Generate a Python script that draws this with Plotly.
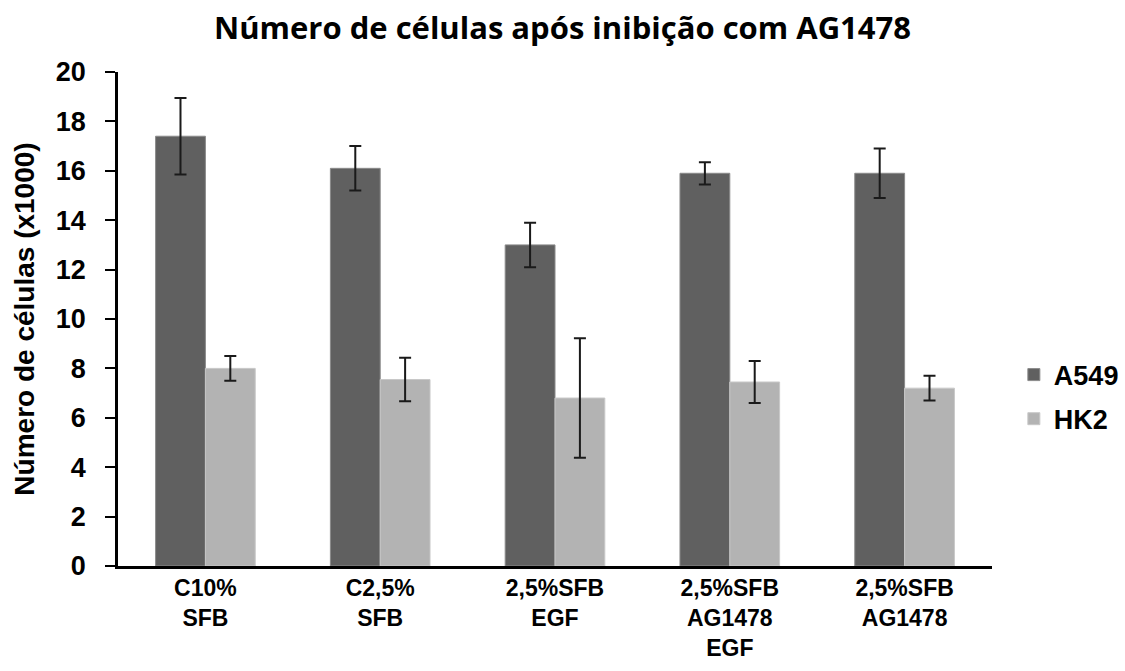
import plotly.graph_objects as go

categories = ["C10%<br>SFB", "C2,5%<br>SFB", "2,5%SFB<br>EGF", "2,5%SFB<br>AG1478<br>EGF", "2,5%SFB<br>AG1478"]
a549_values = [17.4, 16.1, 13.0, 15.9, 15.9]
a549_errors = [1.55, 0.9, 0.9, 0.45, 1.0]
hk2_values = [8.0, 7.55, 6.8, 7.45, 7.2]
hk2_errors = [0.5, 0.88, 2.42, 0.85, 0.5]
y_ticks = [0, 2, 4, 6, 8, 10, 12, 14, 16, 18, 20]

err_style = dict(type="data", visible=True, color="#1a1a1a", thickness=2, width=6)
arial = "Liberation Sans, Arial"

fig = go.Figure()
fig.add_trace(go.Bar(
    name="A549", x=categories, y=a549_values, legendgroup="a549",
    error_y=dict(array=a549_errors, **err_style),
    marker=dict(color="#606060", line=dict(color="#8a8a8a", width=1)),
))
fig.add_trace(go.Bar(
    name="HK2", x=categories, y=hk2_values, legendgroup="hk2",
    error_y=dict(array=hk2_errors, **err_style),
    marker=dict(color="#b3b3b3", line=dict(color="#c8c8c8", width=1)),
))

fig.update_layout(
    width=1125, height=671,
    margin=dict(l=118, r=133, t=72, b=105, autoexpand=False),
    paper_bgcolor="white", plot_bgcolor="white",
    barmode="group", bargap=0.43, bargroupgap=0,
    title=dict(
        text="<b>Número de células após inibição com AG1478</b>",
        x=0.5, xanchor="center", y=0.958, yanchor="middle",
        font=dict(family="Open Sans", size=31, color="black"),
    ),
    font=dict(family=arial, color="black"),
    legend=dict(
        x=1.025, xanchor="left", y=0.342, yanchor="middle",
        font=dict(size=27, color="black", family=arial, weight="bold"),
        traceorder="grouped", tracegroupgap=6,
    ),
    showlegend=True,
)

fig.update_xaxes(
    showline=True, linecolor="black", linewidth=2.5,
    ticks="", showgrid=False, automargin=False,
    tickfont=dict(size=23, family=arial, color="black", weight="bold"),
)
fig.update_yaxes(
    range=[0, 20], tickvals=y_ticks,
    showline=True, linecolor="black", linewidth=2.5,
    ticks="outside", ticklen=10, tickwidth=2, tickcolor="black",
    ticklabelstandoff=14, automargin=False,
    showgrid=False, zeroline=False,
    tickfont=dict(size=27, family=arial, color="black", weight="bold"),
    title=dict(text="Número de células (x1000)", standoff=14,
               font=dict(size=28, family=arial, color="black", weight="bold")),
)

fig.write_html("out.html")
